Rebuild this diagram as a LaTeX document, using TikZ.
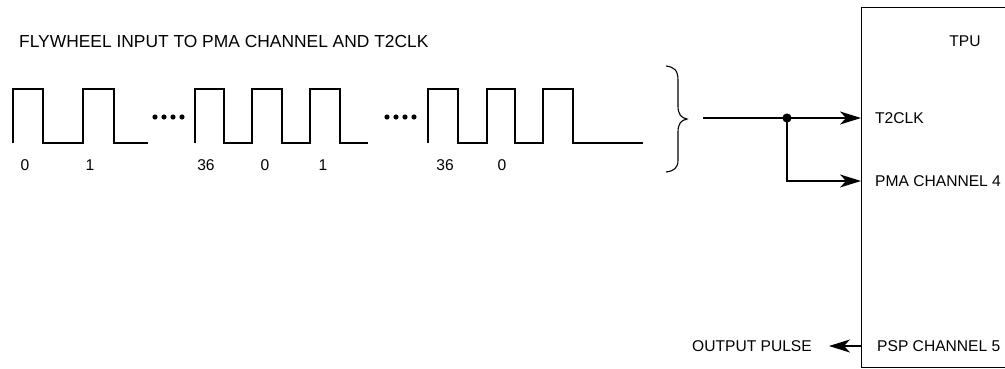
\documentclass[tikz,border=0pt]{standalone}
\usepackage{fontspec}
\setmainfont{Liberation Sans}
\usetikzlibrary{arrows.meta}
\tikzset{
  lbl/.style={inner sep=0pt, font=\fontsize{15.6}{18}\selectfont},
  ttl/.style={inner sep=0pt, font=\fontsize{17.4}{20}\selectfont},
  wave/.style={line width=2pt, line join=miter},
  conn/.style={line width=1.3pt, -{Stealth[length=21pt,width=13pt,inset=6pt]}},
  dotdot/.style={fill=black, draw=none},
}
\begin{document}
\begin{tikzpicture}[x=1pt,y=-1pt]
\useasboundingbox (0,0) rectangle (1005,369);
% title
\node[ttl, anchor=west] (title) at (19,42) {FLYWHEEL INPUT TO PMA CHANNEL AND T2CLK};
% waveform
\draw[wave] (13,143) -- (13,89) -- (43,89) -- (43,143) -- (83,143) -- (83,89) -- (114,89) -- (114,143) -- (148,143);
\draw[wave] (195,143) -- (195,89) -- (224,89) -- (224,143) -- (252,143) -- (252,89) -- (282,89) -- (282,143) -- (310,143) -- (310,89) -- (340,89) -- (340,143) -- (368,143);
\draw[wave] (428,143) -- (428,89) -- (458,89) -- (458,143) -- (487,143) -- (487,89) -- (515,89) -- (515,143) -- (543,143) -- (543,89) -- (573,89) -- (573,143) -- (643,143);
\foreach \x in {155,164,173,182} \fill[dotdot] (\x,117) circle (2.6);
\foreach \x in {387,396,405,414} \fill[dotdot] (\x,117) circle (2.6);
% labels
\node[lbl] (l0a) at (25,165) {0};
\node[lbl] (l1a) at (90,165) {1};
\node[lbl] (l36a) at (206,165) {36};
\node[lbl] (l0b) at (265,165) {0};
\node[lbl] (l1b) at (323,165) {1};
\node[lbl] (l36b) at (445,165) {36};
\node[lbl] (l0c) at (502,165) {0};
% brace
\draw[line width=1.1pt] (666,66) .. controls (674,67) and (678,70) .. (678,80) -- (678,106)
  .. controls (678,114) and (681,118) .. (687,119)
  .. controls (681,120) and (678,124) .. (678,132) -- (678,160)
  .. controls (678,168) and (674,171) .. (666,172);
% TPU box
\draw[line width=1pt] (1006,8) -- (861,8) -- (861,367) -- (1006,367);
\node[lbl] (tpu) at (965,41) {TPU};
\node[lbl, anchor=west] (t2clk) at (875,118) {T2CLK};
\node[lbl, anchor=west] (pma) at (875,181) {PMA CHANNEL 4};
\node[lbl, anchor=west] (psp) at (877,346) {PSP CHANNEL 5};
\node[lbl, anchor=east] (out) at (812,346) {OUTPUT PULSE};
% connectors
\coordinate (src) at (703,118);
\coordinate (j) at (787,118);
\coordinate (t2in) at (861,118);
\coordinate (pmain) at (861,181);
\coordinate (pspout) at (861,346);
\coordinate (outtip) at (829,346);
\draw[line width=1.3pt] (src) -- (j);
\draw[conn] (j) -- (t2in);
\draw[conn] (j) |- (pmain);
\fill (j) circle (4.6);
\draw[conn] (pspout) -- (outtip);
\end{tikzpicture}
\end{document}
